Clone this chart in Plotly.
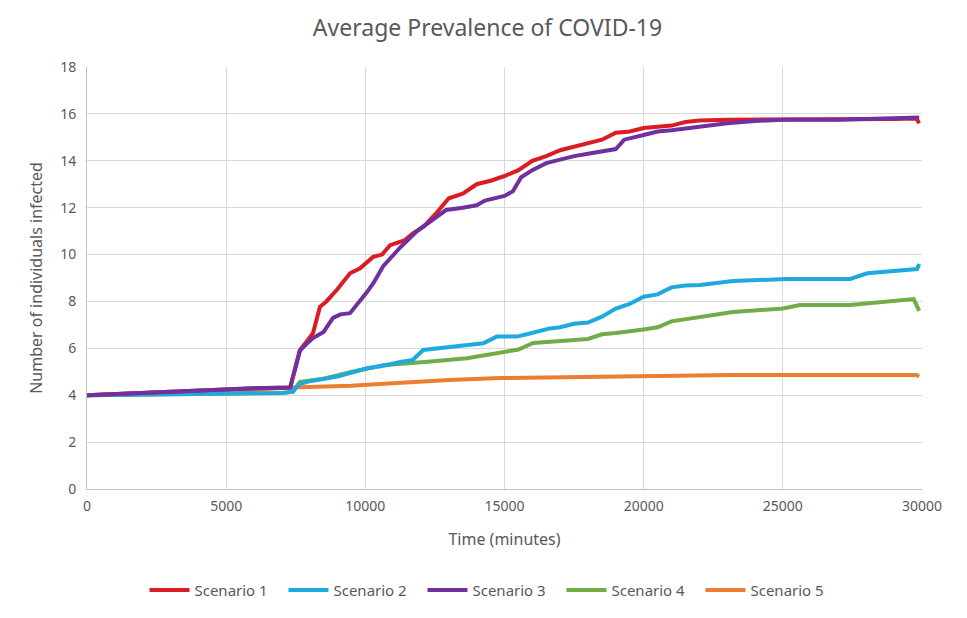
import plotly.graph_objects as go

# Scenario 1
t1 = [0, 1000, 2000, 3500, 5000, 6000, 7300, 7500, 7650, 7900, 8120, 8370, 8600, 8980, 9450, 9800,
      10280, 10600, 10890, 11400, 11710, 12100, 12500, 13000, 13500, 14000, 14500, 15000, 15500,
      16000, 16500, 17000, 17500, 18000, 18500, 19000, 19500, 20000, 21000, 21500, 22000, 23000,
      25000, 27000, 29000, 29800, 29900]
s1 = [4.0, 4.05, 4.1, 4.2, 4.25, 4.3, 4.33, 5.2, 5.93, 6.3, 6.65, 7.77, 8.0, 8.5, 9.2, 9.4,
      9.9, 10.0, 10.4, 10.6, 10.9, 11.2, 11.7, 12.4, 12.6, 13.0, 13.15, 13.35, 13.6,
      14.0, 14.2, 14.45, 14.6, 14.75, 14.9, 15.2, 15.25, 15.4, 15.5, 15.65, 15.72, 15.75,
      15.75, 15.75, 15.78, 15.8, 15.6]

# Scenario 2
t2 = [0, 3000, 5000, 7000, 7400, 7600, 8000, 9000, 10060, 10600, 11250, 11700, 12080, 13040,
      14240, 14720, 15450, 15800, 16630, 17000, 17500, 18000, 18500, 19000, 19500, 20000, 20500,
      21000, 21500, 22030, 23210, 25150, 27420, 28030, 29000, 29820, 29900]
s2 = [4.0, 4.05, 4.08, 4.1, 4.15, 4.45, 4.6, 4.8, 5.15, 5.25, 5.42, 5.5, 5.93, 6.06,
      6.22, 6.5, 6.5, 6.6, 6.85, 6.9, 7.05, 7.1, 7.35, 7.7, 7.9, 8.2, 8.3,
      8.6, 8.68, 8.7, 8.87, 8.96, 8.96, 9.2, 9.3, 9.38, 9.6]

# Scenario 3
t3 = [0, 1000, 2000, 3500, 5000, 6000, 7300, 7500, 7650, 7900, 8120, 8500, 8840, 9100, 9450,
      10060, 10300, 10640, 11000, 11250, 11860, 12200, 12500, 12900, 13500, 14000, 14300, 15000,
      15300, 15600, 16000, 16500, 17000, 17500, 18000, 18500, 19000, 19300, 19700, 20000, 20500,
      21000, 22000, 23000, 24000, 25000, 27000, 28000, 29000, 29900]
s3 = [4.0, 4.05, 4.1, 4.2, 4.25, 4.3, 4.33, 5.2, 5.9, 6.2, 6.44, 6.7, 7.3, 7.45, 7.5,
      8.4, 8.8, 9.5, 10.0, 10.3, 11.0, 11.3, 11.6, 11.9, 12.0, 12.1, 12.3, 12.5,
      12.7, 13.3, 13.6, 13.9, 14.05, 14.2, 14.3, 14.4, 14.5, 14.9, 15.0, 15.1, 15.25,
      15.3, 15.45, 15.6, 15.7, 15.75, 15.75, 15.78, 15.8, 15.85]

# Scenario 4
t4 = [0, 3000, 5000, 7000, 7400, 7650, 8500, 9450, 10640, 11860, 12460, 13650, 14840, 15500,
      16030, 16630, 17500, 18000, 18500, 19000, 20000, 20500, 21000, 22030, 23210, 25000, 25620,
      27420, 29210, 29700, 29900]
s4 = [4.0, 4.05, 4.08, 4.1, 4.15, 4.57, 4.7, 4.98, 5.28, 5.37, 5.45, 5.58, 5.8, 5.95,
      6.23, 6.27, 6.35, 6.4, 6.6, 6.65, 6.8, 6.9, 7.15, 7.35, 7.55, 7.7, 7.85,
      7.85, 8.06, 8.1, 7.6]

# Scenario 5
t5 = [0, 2000, 5000, 5870, 7300, 8500, 9500, 10060, 11000, 11860, 13000, 14840, 16630, 20000,
      21000, 23200, 29800, 29900]
s5 = [4.0, 4.1, 4.2, 4.22, 4.33, 4.35, 4.4, 4.45, 4.52, 4.57, 4.65, 4.73, 4.76, 4.78,
      4.8, 4.86, 4.86, 4.8]

names = ["Scenario 1", "Scenario 2", "Scenario 3", "Scenario 4", "Scenario 5"]
colors = ["#DC1C24", "#1FAADF", "#7030A0", "#70AD47", "#ED7D31"]
xs = [t1, t2, t3, t4, t5]
ys = [s1, s2, s3, s4, s5]

x_ticks = [0, 5000, 10000, 15000, 20000, 25000, 30000]
y_ticks = [0, 2, 4, 6, 8, 10, 12, 14, 16, 18]

fig = go.Figure()
order = [4, 3, 1, 0, 2]
for i in order:
    fig.add_trace(go.Scatter(x=xs[i], y=ys[i], mode="lines", name=names[i],
                             line=dict(color=colors[i], width=4), legendrank=i + 1))

font_family = "Noto Sans"
grey = "#595959"
fig.update_layout(
    width=959, height=610,
    paper_bgcolor="white", plot_bgcolor="white",
    margin=dict(l=79, r=45, t=59, b=129, autoexpand=False),
    title=dict(text="Average Prevalence of COVID-19", x=0.5, xanchor="center",
               y=0.967, yanchor="middle",
               font=dict(family=font_family, size=23, color=grey)),
    font=dict(family=font_family, color=grey, size=14),
    xaxis=dict(range=[0, 30000], tickvals=x_ticks, ticktext=[str(v) for v in x_ticks],
               showgrid=True, gridcolor="#D9D9D9", gridwidth=1,
               showline=True, linecolor="#BFBFBF", linewidth=1, mirror=False,
               zeroline=False, ticks="", tickfont=dict(size=14, color=grey),
               ticklabelstandoff=4,
               title=dict(text="Time (minutes)", font=dict(size=16, color=grey), standoff=20)),
    yaxis=dict(range=[0, 18], tickvals=y_ticks,
               showgrid=True, gridcolor="#D9D9D9", gridwidth=1,
               showline=True, linecolor="#BFBFBF", linewidth=1,
               zeroline=False, ticks="", tickfont=dict(size=14, color=grey),
               ticklabelstandoff=7,
               title=dict(text="Number of individuals infected", font=dict(size=16, color=grey),
                          standoff=13)),
    legend=dict(orientation="h", x=0.485, xanchor="center", y=-0.24, yanchor="middle",
                font=dict(size=15, color=grey), traceorder="normal",
                itemwidth=40, entrywidth=84, entrywidthmode="pixels"),
    showlegend=True,
)

fig.write_html("out.html")
